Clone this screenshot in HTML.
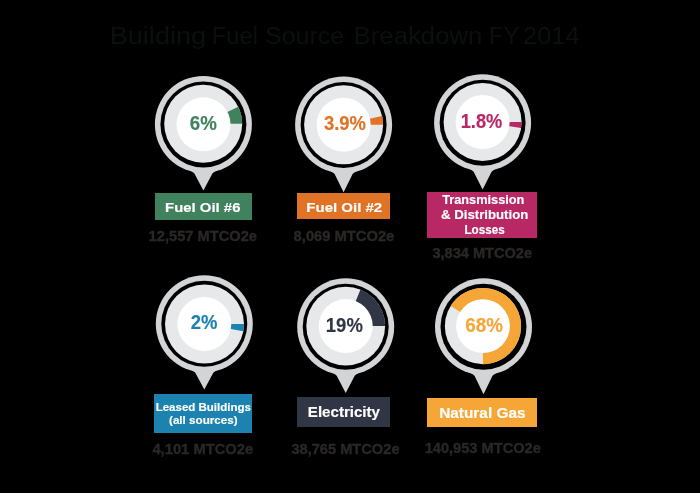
<!DOCTYPE html>
<html><head><meta charset="utf-8"><style>
html,body{margin:0;padding:0;background:#000;}
svg{display:block;will-change:transform;}
text{font-family:"Liberation Sans",sans-serif;}
</style></head><body>
<svg width="700" height="493" viewBox="0 0 700 493">
<rect width="700" height="493" fill="#000000"/>
<circle cx="203.4" cy="124.4" r="48.5" fill="#d3d4d6"/>
<path d="M187.40,168.40 Q193.40,172.40 194.40,173.40 L203.40,190.60 L212.40,173.40 Q213.40,172.40 219.40,168.40 Z" fill="#d3d4d6"/>
<circle cx="203.4" cy="124.4" r="43.0" fill="#000000"/>
<circle cx="203.2" cy="123.8" r="39.0" fill="#e7e8ea"/>
<path d="M242.20,123.80 A39.0,39.0 0 0 0 238.25,106.70 L221.18,115.03 A20,20 0 0 1 223.20,123.80 Z" fill="#40825e"/>
<circle cx="203.5" cy="124.35" r="27.0" fill="#ffffff"/>
<circle cx="343.6" cy="125.0" r="48.5" fill="#d3d4d6"/>
<path d="M327.60,169.00 Q333.60,173.00 334.60,174.00 L343.60,192.20 L352.60,174.00 Q353.60,173.00 359.60,169.00 Z" fill="#d3d4d6"/>
<circle cx="343.6" cy="125.0" r="43.0" fill="#000000"/>
<circle cx="343.6" cy="124.8" r="39.5" fill="#e7e8ea"/>
<path d="M383.10,124.80 A39.5,39.5 0 0 0 382.09,115.91 L363.09,120.30 A20,20 0 0 1 363.60,124.80 Z" fill="#e17326"/>
<circle cx="343.6" cy="124.8" r="27.0" fill="#ffffff"/>
<circle cx="482.6" cy="122.7" r="48.5" fill="#d3d4d6"/>
<path d="M466.60,166.70 Q472.60,170.70 473.60,171.70 L482.60,189.60 L491.60,171.70 Q492.60,170.70 498.60,166.70 Z" fill="#d3d4d6"/>
<circle cx="482.6" cy="122.7" r="43.0" fill="#000000"/>
<circle cx="482.6" cy="122.0" r="39.0" fill="#e7e8ea"/>
<path d="M521.60,122.00 A39.0,39.0 0 0 1 521.12,128.10 L502.35,125.13 A20,20 0 0 0 502.60,122.00 Z" fill="#b72865"/>
<circle cx="482.6" cy="122.05" r="27.0" fill="#ffffff"/>
<circle cx="204.3" cy="323.85" r="48.5" fill="#d3d4d6"/>
<path d="M188.30,367.85 Q194.30,371.85 195.30,372.85 L204.30,389.60 L213.30,372.85 Q214.30,371.85 220.30,367.85 Z" fill="#d3d4d6"/>
<circle cx="204.3" cy="323.85" r="43.0" fill="#000000"/>
<circle cx="204.5" cy="324.0" r="39.5" fill="#e7e8ea"/>
<path d="M244.00,324.00 A39.5,39.5 0 0 1 243.34,331.20 L224.17,327.64 A20,20 0 0 0 224.50,324.00 Z" fill="#1c82af"/>
<circle cx="204.3" cy="324.0" r="27.0" fill="#ffffff"/>
<circle cx="345.7" cy="326.7" r="48.5" fill="#d3d4d6"/>
<path d="M329.70,370.70 Q335.70,374.70 336.70,375.70 L345.70,393.10 L354.70,375.70 Q355.70,374.70 361.70,370.70 Z" fill="#d3d4d6"/>
<circle cx="345.7" cy="326.7" r="43.0" fill="#000000"/>
<circle cx="345.7" cy="326.1" r="39.4" fill="#e7e8ea"/>
<path d="M385.10,326.10 A39.4,39.4 0 0 0 360.46,289.57 L353.19,307.56 A20,20 0 0 1 365.70,326.10 Z" fill="#303645"/>
<circle cx="345.7" cy="326.1" r="27.0" fill="#ffffff"/>
<circle cx="483.5" cy="326.75" r="48.5" fill="#d3d4d6"/>
<path d="M467.50,370.75 Q473.50,374.75 474.50,375.75 L483.50,394.20 L492.50,375.75 Q493.50,374.75 499.50,370.75 Z" fill="#d3d4d6"/>
<circle cx="483.5" cy="326.75" r="43.0" fill="#000000"/>
<circle cx="482.95" cy="326.15" r="38.1" fill="#e7e8ea"/>
<path d="M482.95,364.25 A38.1,38.1 0 1 0 450.64,305.96 L465.99,315.55 A20,20 0 1 1 482.95,346.15 Z" fill="#f6a637"/>
<circle cx="482.95" cy="326.15" r="26.9" fill="#ffffff"/>
<rect x="155" y="193" width="97" height="27" fill="#40825e"/>
<rect x="297" y="193" width="93" height="26" fill="#e17326"/>
<rect x="427" y="192" width="110" height="46" fill="#b72865"/>
<rect x="154" y="394" width="98" height="39" fill="#1c82af"/>
<rect x="297" y="397" width="93" height="30" fill="#303645"/>
<rect x="427" y="398" width="110" height="29" fill="#f6a637"/>
<text x="109.69" y="44.2" font-size="24.7" font-weight="normal" fill="#0a0f0f" textLength="96.43" lengthAdjust="spacingAndGlyphs">Building</text>
<text x="211.75" y="44.2" font-size="24.7" font-weight="normal" fill="#0a0f0f" textLength="46.42" lengthAdjust="spacingAndGlyphs">Fuel</text>
<text x="265.05" y="44.2" font-size="24.7" font-weight="normal" fill="#0a0f0f" textLength="79.00" lengthAdjust="spacingAndGlyphs">Source</text>
<text x="353.60" y="44.2" font-size="24.7" font-weight="normal" fill="#0a0f0f" textLength="128.75" lengthAdjust="spacingAndGlyphs">Breakdown</text>
<text x="488.84" y="44.2" font-size="24.7" font-weight="normal" fill="#0a0f0f" textLength="30.80" lengthAdjust="spacingAndGlyphs">FY</text>
<text x="523.00" y="44.2" font-size="24.7" font-weight="normal" fill="#0a0f0f" textLength="56.73" lengthAdjust="spacingAndGlyphs">2014</text>
<text x="189.79" y="130.1" font-size="19.5" font-weight="bold" fill="#40825e" stroke="#40825e" stroke-width="0.15" textLength="27.03" lengthAdjust="spacingAndGlyphs">6%</text>
<text x="324.00" y="130.1" font-size="19.5" font-weight="bold" fill="#e17326" stroke="#e17326" stroke-width="0.15" textLength="42.00" lengthAdjust="spacingAndGlyphs">3.9%</text>
<text x="460.69" y="128" font-size="19.5" font-weight="bold" fill="#b72865" stroke="#b72865" stroke-width="0.15" textLength="41.65" lengthAdjust="spacingAndGlyphs">1.8%</text>
<text x="190.74" y="329.1" font-size="19.5" font-weight="bold" fill="#1c82af" stroke="#1c82af" stroke-width="0.15" textLength="26.68" lengthAdjust="spacingAndGlyphs">2%</text>
<text x="325.82" y="332.1" font-size="19.5" font-weight="bold" fill="#303645" stroke="#303645" stroke-width="0.15" textLength="37.02" lengthAdjust="spacingAndGlyphs">19%</text>
<text x="465.26" y="332.1" font-size="19.5" font-weight="bold" fill="#f6a637" stroke="#f6a637" stroke-width="0.15" textLength="37.59" lengthAdjust="spacingAndGlyphs">68%</text>
<text x="165.10" y="211.7" font-size="13.6" font-weight="bold" fill="#ffffff" stroke="#ffffff" stroke-width="0.15" textLength="75.32" lengthAdjust="spacingAndGlyphs">Fuel Oil #6</text>
<text x="148.61" y="240.7" font-size="15.0" font-weight="bold" fill="#2b2727" stroke="#2b2727" stroke-width="0.35" textLength="108.34" lengthAdjust="spacingAndGlyphs">12,557 MTCO2e</text>
<text x="306.35" y="211.7" font-size="13.6" font-weight="bold" fill="#ffffff" stroke="#ffffff" stroke-width="0.15" textLength="75.87" lengthAdjust="spacingAndGlyphs">Fuel Oil #2</text>
<text x="293.60" y="240.7" font-size="15.0" font-weight="bold" fill="#2b2727" stroke="#2b2727" stroke-width="0.35" textLength="100.70" lengthAdjust="spacingAndGlyphs">8,069 MTCO2e</text>
<text x="442.20" y="203.75" font-size="12.5" font-weight="bold" fill="#ffffff" stroke="#ffffff" stroke-width="0.15" textLength="82.22" lengthAdjust="spacingAndGlyphs">Transmission</text>
<text x="441.00" y="218.9" font-size="12.5" font-weight="bold" fill="#ffffff" stroke="#ffffff" stroke-width="0.15" textLength="87.34" lengthAdjust="spacingAndGlyphs">&amp; Distribution</text>
<text x="464.46" y="233.6" font-size="12.5" font-weight="bold" fill="#ffffff" stroke="#ffffff" stroke-width="0.15" textLength="40.22" lengthAdjust="spacingAndGlyphs">Losses</text>
<text x="432.40" y="257.9" font-size="15.0" font-weight="bold" fill="#2b2727" stroke="#2b2727" stroke-width="0.35" textLength="99.60" lengthAdjust="spacingAndGlyphs">3,834 MTCO2e</text>
<text x="155.70" y="411.25" font-size="11.7" font-weight="bold" fill="#ffffff" stroke="#ffffff" stroke-width="0.15" textLength="95.22" lengthAdjust="spacingAndGlyphs">Leased Buildings</text>
<text x="169.00" y="424.3" font-size="11.7" font-weight="bold" fill="#ffffff" stroke="#ffffff" stroke-width="0.15" textLength="68.63" lengthAdjust="spacingAndGlyphs">(all sources)</text>
<text x="152.40" y="453.75" font-size="15.0" font-weight="bold" fill="#2b2727" stroke="#2b2727" stroke-width="0.35" textLength="100.82" lengthAdjust="spacingAndGlyphs">4,101 MTCO2e</text>
<text x="307.85" y="417.1" font-size="14.2" font-weight="bold" fill="#ffffff" stroke="#ffffff" stroke-width="0.15" textLength="72.15" lengthAdjust="spacingAndGlyphs">Electricity</text>
<text x="291.40" y="453.75" font-size="15.0" font-weight="bold" fill="#2b2727" stroke="#2b2727" stroke-width="0.35" textLength="108.12" lengthAdjust="spacingAndGlyphs">38,765 MTCO2e</text>
<text x="439.18" y="418" font-size="14.2" font-weight="bold" fill="#ffffff" stroke="#ffffff" stroke-width="0.15" textLength="86.40" lengthAdjust="spacingAndGlyphs">Natural Gas</text>
<text x="424.63" y="452.9" font-size="15.0" font-weight="bold" fill="#2b2727" stroke="#2b2727" stroke-width="0.35" textLength="116.23" lengthAdjust="spacingAndGlyphs">140,953 MTCO2e</text>
</svg>
</body></html>
